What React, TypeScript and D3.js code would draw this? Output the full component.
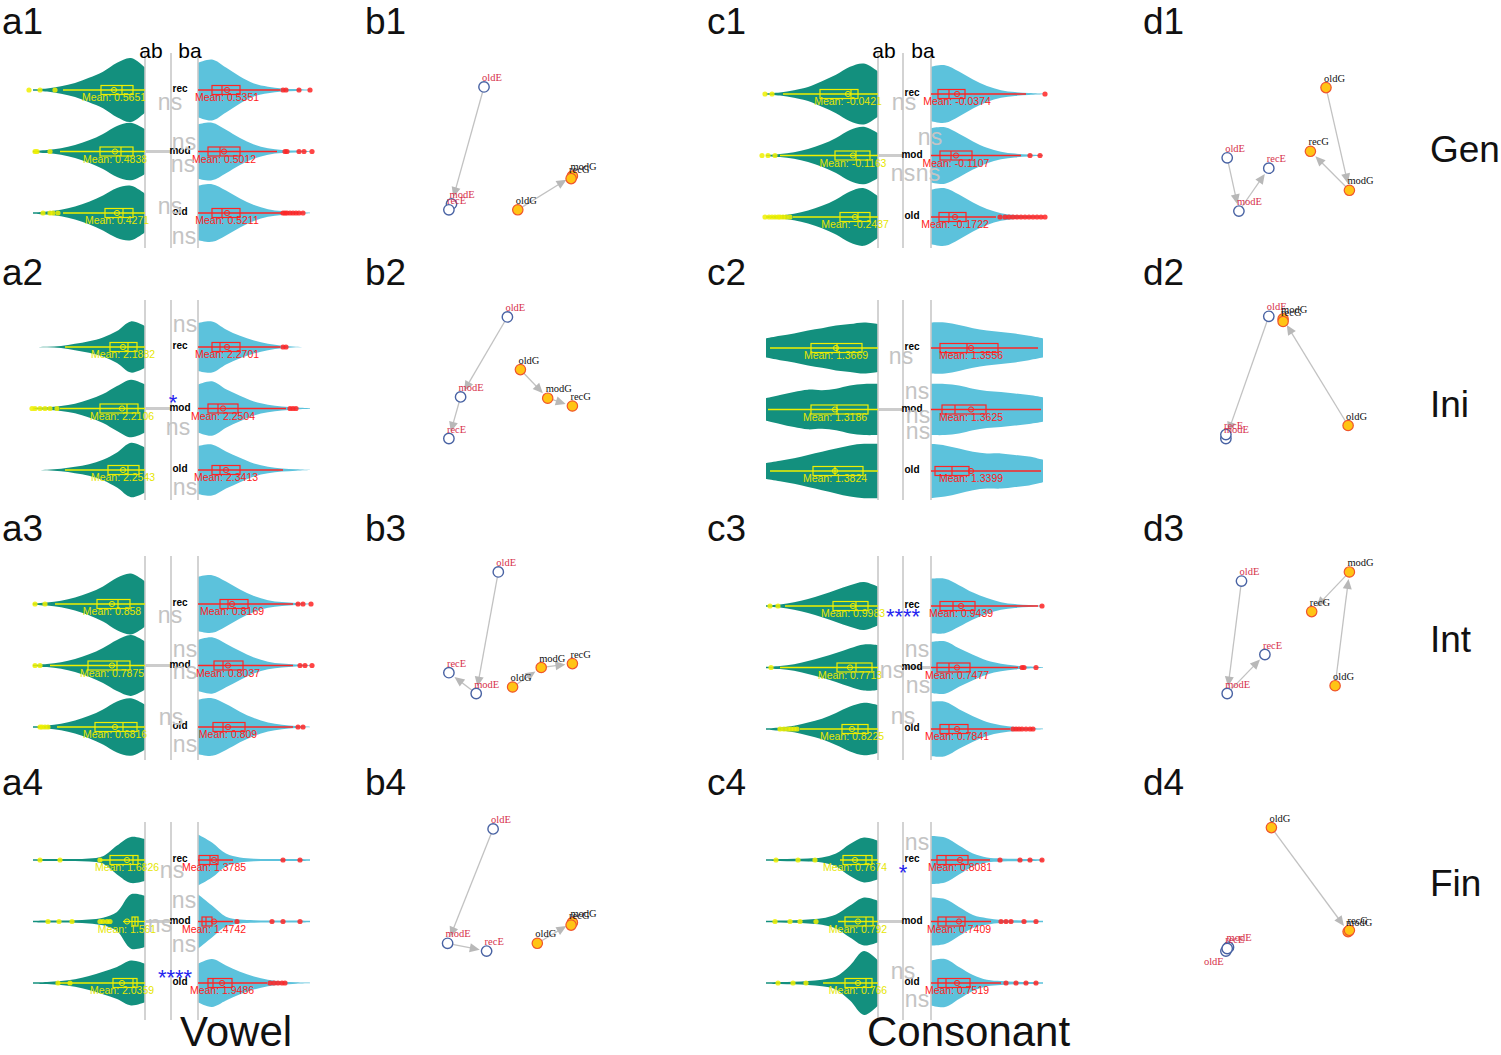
import * as d3 from "d3";
import {useEffect, useRef} from "react";

const W = 1501;
const H = 1055;

const rowNames = ["Gen", "Ini", "Int", "Fin"];
const groups = ["rec", "mod", "old"];
const sideLabels = ["ab", "ba"];
const titles = ["Vowel", "Consonant"];

// violin panels: 0-3 = vowel Gen..Fin (a1-a4), 4-7 = consonant Gen..Fin (c1-c4)
// density profile sampled every 0.14 units away from the centre gap
const profilesAb = [
    [[0.7, 1, 0.85, 0.57, 0.38, 0.22, 0.12, 0.05, 0.02], [0.7, 0.9, 0.8, 0.55, 0.35, 0.2, 0.1, 0.05, 0.02], [0.6, 0.85, 0.78, 0.55, 0.35, 0.2, 0.1, 0.05, 0.02]],
    [[0.65, 0.8, 0.5, 0.3, 0.18, 0.1, 0.03, 0.01, 0], [0.75, 0.9, 0.7, 0.45, 0.28, 0.15, 0.08, 0.04, 0.02], [0.7, 0.85, 0.55, 0.32, 0.18, 0.1, 0.04, 0.01, 0]],
    [[0.7, 0.95, 0.82, 0.55, 0.35, 0.2, 0.1, 0.05, 0.02], [0.75, 0.95, 0.8, 0.55, 0.35, 0.2, 0.1, 0.05, 0.02], [0.7, 0.9, 0.8, 0.55, 0.35, 0.2, 0.1, 0.05, 0.02]],
    [[0.65, 0.72, 0.45, 0.12, 0.05, 0.03, 0.03, 0.03, 0.02], [0.8, 0.85, 0.3, 0.12, 0.06, 0.04, 0.03, 0.03, 0.02], [0.6, 0.7, 0.5, 0.35, 0.22, 0.12, 0.06, 0.03, 0.02]],
    [[0.7, 0.95, 0.85, 0.6, 0.4, 0.22, 0.12, 0.05, 0.02], [0.7, 0.9, 0.8, 0.55, 0.35, 0.2, 0.1, 0.05, 0.02], [0.65, 0.9, 0.8, 0.55, 0.35, 0.2, 0.1, 0.05, 0.02]],
    [[0.75, 0.8, 0.75, 0.7, 0.62, 0.55, 0.45, 0.38, 0.3], [0.8, 0.8, 0.75, 0.65, 0.6, 0.62, 0.55, 0.45, 0.35], [0.85, 0.85, 0.8, 0.7, 0.6, 0.5, 0.4, 0.32, 0.25]],
    [[0.6, 0.75, 0.65, 0.5, 0.35, 0.22, 0.12, 0.05, 0.02], [0.7, 0.72, 0.6, 0.45, 0.32, 0.2, 0.1, 0.05, 0.02], [0.75, 0.82, 0.7, 0.5, 0.32, 0.2, 0.1, 0.05, 0.02]],
    [[0.6, 0.7, 0.5, 0.2, 0.08, 0.05, 0.04, 0.03, 0.02], [0.65, 0.75, 0.5, 0.22, 0.1, 0.06, 0.04, 0.03, 0.02], [0.7, 1.0, 0.55, 0.2, 0.1, 0.06, 0.04, 0.03, 0.02]],
];
const profilesBa = [
    [[0.85, 0.95, 0.7, 0.42, 0.2, 0.1, 0.05, 0.03, 0.01], [0.85, 0.9, 0.68, 0.42, 0.22, 0.1, 0.05, 0.03, 0.01], [0.85, 0.9, 0.7, 0.45, 0.25, 0.12, 0.06, 0.03, 0.01]],
    [[0.75, 0.8, 0.55, 0.35, 0.2, 0.1, 0.04, 0.01, 0], [0.75, 0.85, 0.6, 0.4, 0.22, 0.12, 0.06, 0.03, 0.01], [0.75, 0.8, 0.58, 0.38, 0.2, 0.1, 0.05, 0.02, 0]],
    [[0.85, 0.9, 0.7, 0.45, 0.25, 0.12, 0.06, 0.03, 0.01], [0.8, 0.88, 0.68, 0.45, 0.25, 0.12, 0.06, 0.03, 0.01], [0.85, 0.9, 0.72, 0.48, 0.28, 0.14, 0.07, 0.03, 0.01]],
    [[0.8, 0.55, 0.2, 0.08, 0.04, 0.03, 0.03, 0.03, 0.02], [0.85, 0.5, 0.15, 0.06, 0.04, 0.03, 0.03, 0.03, 0.02], [0.6, 0.75, 0.55, 0.35, 0.2, 0.1, 0.05, 0.02, 0.01]],
    [[0.85, 0.9, 0.7, 0.45, 0.25, 0.12, 0.06, 0.03, 0.01], [0.85, 0.88, 0.68, 0.44, 0.24, 0.12, 0.06, 0.03, 0.01], [0.85, 0.9, 0.7, 0.45, 0.25, 0.12, 0.06, 0.03, 0.01]],
    [[0.8, 0.8, 0.72, 0.62, 0.55, 0.5, 0.45, 0.38, 0.3], [0.8, 0.8, 0.75, 0.65, 0.58, 0.55, 0.5, 0.45, 0.38], [0.85, 0.8, 0.7, 0.6, 0.55, 0.55, 0.5, 0.45, 0.35]],
    [[0.85, 0.85, 0.65, 0.42, 0.25, 0.12, 0.06, 0.03, 0.01], [0.8, 0.82, 0.6, 0.4, 0.22, 0.12, 0.06, 0.03, 0.01], [0.85, 0.85, 0.62, 0.4, 0.22, 0.12, 0.06, 0.03, 0.01]],
    [[0.75, 0.7, 0.45, 0.2, 0.08, 0.05, 0.04, 0.03, 0.02], [0.75, 0.7, 0.45, 0.2, 0.1, 0.05, 0.04, 0.03, 0.02], [0.7, 0.75, 0.5, 0.25, 0.1, 0.06, 0.04, 0.03, 0.02]],
];

// [q1, median, mean, q3, whisker end]
const boxesAb = [
    [[0.12, 0.23, 0.31, 0.44, 0.82], [0.12, 0.24, 0.30, 0.45, 0.85], [0.12, 0.22, 0.28, 0.40, 0.82]],
    [[0.08, 0.17, 0.22, 0.35, 0.80], [0.07, 0.18, 0.23, 0.45, 0.85], [0.06, 0.17, 0.22, 0.37, 0.80]],
    [[0.15, 0.27, 0.33, 0.48, 0.90], [0.15, 0.28, 0.33, 0.57, 0.95], [0.08, 0.22, 0.30, 0.50, 0.88]],
    [[0.07, 0.12, 0.18, 0.35, 0.45], [0.07, 0.10, 0.18, 0.13, 0.22], [0.08, 0.12, 0.23, 0.32, 0.87]],
    [[0.20, 0.27, 0.30, 0.58, 0.95], [0.08, 0.22, 0.25, 0.43, 0.98], [0.08, 0.20, 0.23, 0.38, 0.85]],
    [[0.16, 0.41, 0.42, 0.67, 1.08], [0.10, 0.41, 0.43, 0.67, 1.10], [0.15, 0.43, 0.43, 0.65, 1.08]],
    [[0.10, 0.22, 0.25, 0.45, 0.93], [0.06, 0.22, 0.28, 0.41, 0.98], [0.10, 0.20, 0.26, 0.36, 0.78]],
    [[0.06, 0.12, 0.23, 0.35, 0.38], [0.05, 0.12, 0.20, 0.33, 0.40], [0.06, 0.12, 0.20, 0.33, 0.55]],
];
const boxesBa = [
    [[0.14, 0.24, 0.29, 0.42, 0.82], [0.10, 0.22, 0.26, 0.42, 0.79], [0.14, 0.24, 0.29, 0.42, 0.84]],
    [[0.14, 0.22, 0.29, 0.42, 0.82], [0.10, 0.20, 0.25, 0.40, 0.88], [0.14, 0.22, 0.28, 0.42, 0.85]],
    [[0.22, 0.30, 0.34, 0.50, 0.95], [0.16, 0.25, 0.30, 0.45, 0.95], [0.15, 0.25, 0.30, 0.47, 0.95]],
    [[0.01, 0.12, 0.16, 0.20, 0.35], [0.04, 0.08, 0.16, 0.14, 0.35], [0.10, 0.15, 0.24, 0.34, 0.69]],
    [[0.07, 0.18, 0.26, 0.34, 0.95], [0.09, 0.20, 0.25, 0.41, 0.90], [0.08, 0.18, 0.24, 0.35, 0.65]],
    [[0.09, 0.36, 0.40, 0.67, 1.07], [0.11, 0.24, 0.40, 0.55, 1.10], [0.04, 0.21, 0.40, 0.38, 1.10]],
    [[0.09, 0.22, 0.30, 0.44, 1.07], [0.06, 0.18, 0.26, 0.39, 0.87], [0.09, 0.18, 0.26, 0.37, 0.79]],
    [[0.06, 0.15, 0.29, 0.37, 0.59], [0.07, 0.15, 0.28, 0.34, 0.60], [0.07, 0.15, 0.26, 0.39, 0.70]],
];

const outliersAb = [
    [[0.90, 1.05, 1.16], [0.95, 1.08, 1.10], [0.87, 0.92, 0.95, 1.02]],
    [[], [0.88, 0.95, 1.00, 1.05, 1.10, 1.13], []],
    [[1.00, 1.10], [1.05, 1.10], [0.97, 1.00, 1.03, 1.05]],
    [[0.45, 0.85, 1.05], [0.35, 0.38, 0.42, 0.45, 0.73, 0.86, 0.97], [0.75, 0.87]],
    [[1.06, 1.13], [1.03, 1.10, 1.16], [0.88, 0.92, 0.95, 0.98, 1.00, 1.03, 1.06, 1.09, 1.13]],
    [[], [], []],
    [[1.00, 1.08], [1.07], [0.81, 0.84, 0.87, 0.90, 0.94, 0.98]],
    [[0.63, 0.80, 1.02], [0.62, 0.78, 0.88, 1.03], [0.72, 0.85, 1.00]],
];
const outliersBa = [
    [[0.85, 0.88, 1.01, 1.12], [0.87, 0.89, 1.01, 1.06, 1.14], [0.85, 0.87, 0.89, 0.92, 0.95, 0.98, 1.01, 1.05]],
    [[0.85, 0.88], [0.92, 0.95, 0.98], []],
    [[1.00, 1.05, 1.13], [1.02, 1.07, 1.14], [1.00, 1.05]],
    [[0.85, 1.02], [0.39, 0.74, 0.85, 1.02], [0.72, 0.76, 0.80, 0.84, 0.87]],
    [[1.14], [0.99, 1.09], [0.69, 0.74, 0.78, 0.82, 0.86, 0.90, 0.94, 0.98, 1.02, 1.06, 1.10, 1.14]],
    [[], [], []],
    [[1.11], [0.91, 0.93, 1.05], [0.82, 0.85, 0.88, 0.91, 0.95, 0.99, 1.02]],
    [[0.69, 0.89, 0.99, 1.11], [0.70, 0.75, 0.80, 0.93, 1.05], [0.75, 0.85, 0.95, 1.05]],
];

const meansAb = [
    ["0.5651", "0.4838", "0.4271"], ["2.1882", "2.2106", "2.2543"], ["0.858", "0.7875", "0.6816"], ["1.6826", "1.561", "2.0359"],
    ["-0.0421", "-0.1163", "-0.2437"], ["1.3669", "1.3186", "1.3824"], ["0.9983", "0.7713", "0.8225"], ["0.7674", "0.792", "0.766"],
];
const meansBa = [
    ["0.5351", "0.5012", "0.5211"], ["2.2701", "2.2504", "2.3413"], ["0.8169", "0.8037", "0.809"], ["1.3785", "1.4742", "1.9486"],
    ["-0.0374", "-0.1107", "-0.1722"], ["1.3556", "1.3625", "1.3399"], ["0.9439", "0.7477", "0.7841"], ["0.8081", "0.7409", "0.7519"],
];

// significance labels: [label, offset from middle line, offset from rec row]
const tests: [string, number, number][][] = [
    [["ns", -1, 13], ["ns", 13, 53], ["ns", 12, 75], ["ns", -1, 117], ["ns", 13, 147]],
    [["ns", 14, -22], ["*", 2, 51], ["ns", 7, 81], ["ns", 14, 141]],
    [["ns", -1, 12], ["ns", 14, 46], ["ns", 14, 68], ["ns", 0, 114], ["ns", 14, 141]],
    [["ns", 1, 11], ["ns", 13, 41], ["ns", -11, 65], ["ns", 13, 85], ["****", 4, 113]],
    [["ns", 1, 9], ["ns", 27, 44], ["ns", 0, 80], ["ns", 25, 80]],
    [["ns", -2, 9], ["ns", 14, 44], ["ns", 15, 68], ["ns", 15, 84]],
    [["****", 0, 6], ["ns", 14, 44], ["ns", -11, 65], ["ns", 15, 80], ["ns", 0, 111]],
    [["ns", 14, -17], ["*", 0, 8], ["ns", 0, 112], ["ns", 14, 140]],
];

// network panels: 0-3 = b1-b4, 4-7 = d1-d4 (layout coordinates 0..1)
const nodeNames = ["oldE", "modE", "recE", "oldG", "modG", "recG"];
const nodeX = [
    [0.30, 0.05, 0.03, 0.56, 0.98, 0.97],
    [0.48, 0.12, 0.03, 0.58, 0.79, 0.98],
    [0.41, 0.24, 0.03, 0.52, 0.74, 0.98],
    [0.37, 0.02, 0.32, 0.71, 0.98, 0.97],
    [0.04, 0.13, 0.36, 0.80, 0.98, 0.68],
    [0.36, 0.03, 0.03, 0.97, 0.47, 0.47],
    [0.15, 0.04, 0.33, 0.87, 0.98, 0.69],
    [0.03, 0.05, 0.04, 0.38, 0.97, 0.98],
];
const nodeY = [
    [0.015, 0.915, 0.96, 0.96, 0.70, 0.72],
    [0.015, 0.63, 0.95, 0.42, 0.64, 0.70],
    [0.015, 0.95, 0.79, 0.90, 0.75, 0.72],
    [0.03, 0.91, 0.97, 0.91, 0.75, 0.77],
    [0.56, 0.97, 0.64, 0.02, 0.81, 0.51],
    [0.01, 0.95, 0.92, 0.85, 0.03, 0.05],
    [0.085, 0.95, 0.65, 0.89, 0.015, 0.32],
    [0.97, 0.94, 0.95, 0.02, 0.82, 0.81],
];
const links = [["oldE", "modE"], ["modE", "recE"], ["oldG", "modG"], ["modG", "recG"]];

const SANS = "'Liberation Sans', Arial, sans-serif";
const SERIF = "'Liberation Serif', 'Times New Roman', serif";

function draw(el: SVGSVGElement) {
    const svg = d3.select(el);
    svg.selectAll("*").remove();
    svg.append("rect").attr("width", W).attr("height", H).attr("fill", "#fff");

    const dist = d3.scaleLinear().domain([0, 1.2]).range([0, 120]);
    const half = d3.scaleLinear().domain([0, 1]).range([0, 32]);
    const steps = d3.range(9).map(i => i * 0.14);

    const cols = [{xL: 145, xM: 171, xR: 198}, {xL: 878, xM: 903, xR: 931}];
    const recYs = [[90, 347, 604, 860], [94, 348, 606, 860]];
    const lineTop = [53, 300, 556, 822];
    const lineBot = [248, 500, 760, 1020];

    const sides = [
        {profiles: profilesAb, boxes: boxesAb, outliers: outliersAb, means: meansAb, fill: "#13907e", stroke: "#f0f000", text: "#e6e600"},
        {profiles: profilesBa, boxes: boxesBa, outliers: outliersBa, means: meansBa, fill: "#5cc2dc", stroke: "#ff2424", text: "#ff2020"},
    ];

    d3.range(8).forEach(p => {
        const col = p < 4 ? 0 : 1;
        const r = p % 4;
        const {xL, xM, xR} = cols[col];
        const recY = recYs[col][r];
        const rowY = d3.scaleLinear().domain([0, 2]).range([recY, recY + 123]);
        const g = svg.append("g");
        const px = (side: number, v: number) => side === 0 ? xL - dist(v) : xR + dist(v);

        // violins
        sides.forEach((s, side) => {
            groups.forEach((_, gi) => {
                const cy = rowY(gi);
                const area = d3.area<number>()
                    .x((_, i) => px(side, steps[i]))
                    .y0(v => cy - half(v))
                    .y1(v => cy + half(v))
                    .curve(d3.curveCatmullRom.alpha(0.5));
                g.append("path").attr("d", area(s.profiles[p][gi])).attr("fill", s.fill);
            });
        });

        // guide lines
        [xL, xM, xR].forEach(x => {
            g.append("line").attr("x1", x).attr("x2", x).attr("y1", lineTop[r]).attr("y2", lineBot[r])
                .attr("stroke", "#c8c8c8").attr("stroke-width", 1.6);
        });
        const barFrom = p === 6 ? xM : xL;
        const barTo = p === 6 ? xR : xM;
        g.append("line").attr("x1", barFrom).attr("x2", barTo).attr("y1", rowY(1)).attr("y2", rowY(1))
            .attr("stroke", "#cccccc").attr("stroke-width", 3);

        // boxplots
        sides.forEach((s, side) => {
            groups.forEach((_, gi) => {
                const cy = rowY(gi);
                const [q1, med, mean, q3, wh] = s.boxes[p][gi];
                g.append("line").attr("x1", px(side, 0)).attr("x2", px(side, wh)).attr("y1", cy).attr("y2", cy)
                    .attr("stroke", s.stroke).attr("stroke-width", 1.3);
                const a = px(side, q1), b = px(side, q3);
                g.append("rect").attr("x", Math.min(a, b)).attr("y", cy - 4.5)
                    .attr("width", Math.abs(b - a)).attr("height", 9)
                    .attr("fill", "none").attr("stroke", s.stroke).attr("stroke-width", 1.2);
                g.append("line").attr("x1", px(side, med)).attr("x2", px(side, med)).attr("y1", cy - 4.5).attr("y2", cy + 4.5)
                    .attr("stroke", s.stroke).attr("stroke-width", 1.2);
                g.append("circle").attr("cx", px(side, mean)).attr("cy", cy).attr("r", 2.6)
                    .attr("fill", "none").attr("stroke", s.stroke).attr("stroke-width", 1);
                s.outliers[p][gi].forEach(v => {
                    g.append("circle").attr("cx", px(side, v)).attr("cy", cy).attr("r", 2.6)
                        .attr("fill", s.stroke).attr("fill-opacity", 0.85);
                });
                g.append("text").attr("x", px(side, mean)).attr("y", cy + 11)
                    .attr("text-anchor", "middle").attr("font-family", SANS).attr("font-size", 10.5)
                    .attr("fill", s.text).text(`Mean: ${s.means[p][gi]}`);
            });
        });

        groups.forEach((grp, gi) => {
            g.append("text").attr("x", xM + 9).attr("y", rowY(gi) + 2).attr("text-anchor", "middle")
                .attr("font-family", SANS).attr("font-size", 10).attr("font-weight", "bold").attr("fill", "#000").text(grp);
        });

        tests[p].forEach(([label, dx, dy]) => {
            const isStar = label !== "ns";
            g.append("text").attr("x", xM + dx).attr("y", recY + dy + (isStar ? 12 : 7))
                .attr("text-anchor", "middle").attr("font-family", SANS)
                .attr("font-size", isStar ? 22 : 23)
                .attr("fill", isStar ? "#2424f0" : "#c4c4c4").text(label);
        });

        if (r === 0) {
            g.append("text").attr("x", xL + 6).attr("y", 58).attr("text-anchor", "middle")
                .attr("font-family", SANS).attr("font-size", 21).text(sideLabels[0]);
            g.append("text").attr("x", xR - 8).attr("y", 58).attr("text-anchor", "middle")
                .attr("font-family", SANS).attr("font-size", 21).text(sideLabels[1]);
        }
    });

    // network panels
    const netLeft = [445, 1222];
    const netTop = [85, 315, 570, 825];
    d3.range(8).forEach(p => {
        const x0 = netLeft[p < 4 ? 0 : 1];
        const y0 = netTop[p % 4];
        const sx = d3.scaleLinear().domain([0, 1]).range([x0, x0 + 130]);
        const sy = d3.scaleLinear().domain([0, 1]).range([y0, y0 + 130]);
        const pos = new Map(nodeNames.map((n, i) => [n, [sx(nodeX[p][i]), sy(nodeY[p][i])]]));
        const g = svg.append("g");

        links.forEach(([s, t]) => {
            const [x1, y1] = pos.get(s)!;
            const [x2, y2] = pos.get(t)!;
            const len = Math.hypot(x2 - x1, y2 - y1);
            if (len < 8) return;
            const ux = (x2 - x1) / len, uy = (y2 - y1) / len;
            const tx = x2 - ux * 7, ty = y2 - uy * 7;
            g.append("line").attr("x1", x1 + ux * 5).attr("y1", y1 + uy * 5).attr("x2", tx - ux * 4).attr("y2", ty - uy * 4)
                .attr("stroke", "#c2c2c2").attr("stroke-width", 1.3);
            const bx = tx - ux * 10, by = ty - uy * 10;
            const path = d3.path();
            path.moveTo(tx, ty);
            path.lineTo(bx - uy * 4.5, by + ux * 4.5);
            path.lineTo(bx + uy * 4.5, by - ux * 4.5);
            path.closePath();
            g.append("path").attr("d", path.toString()).attr("fill", "#b8b8b8");
        });

        nodeNames.forEach(n => {
            const [x, y] = pos.get(n)!;
            const isE = n.endsWith("E");
            g.append("circle").attr("cx", x).attr("cy", y).attr("r", 5.2)
                .attr("fill", isE ? "#fff" : "#ffc414")
                .attr("stroke", isE ? "#4862a3" : "#f0542c").attr("stroke-width", isE ? 1.4 : 1.2);
        });
        nodeNames.forEach(n => {
            const [x, y] = pos.get(n)!;
            const isE = n.endsWith("E");
            const below = p === 7 && n === "oldE";
            g.append("text").attr("x", below ? x - 22 : x - 2).attr("y", below ? y + 14 : y - 6)
                .attr("font-family", SERIF).attr("font-size", 10.5)
                .attr("fill", isE ? "#d6304a" : "#111").text(n);
        });
    });

    // panel letters
    const letterX = [2, 365, 707, 1143];
    const letterY = [34, 285, 541, 795];
    ["a", "b", "c", "d"].forEach((l, ci) => {
        letterY.forEach((y, r) => {
            svg.append("text").attr("x", letterX[ci]).attr("y", y).attr("font-family", SANS)
                .attr("font-size", 37).attr("fill", "#111").text(`${l}${r + 1}`);
        });
    });

    const rowBase = [162, 417, 652, 896];
    rowNames.forEach((name, r) => {
        svg.append("text").attr("x", 1430).attr("y", rowBase[r]).attr("font-family", SANS)
            .attr("font-size", 37).attr("fill", "#111").text(name);
    });

    [180, 867].forEach((x, i) => {
        svg.append("text").attr("x", x).attr("y", 1046).attr("font-family", SANS)
            .attr("font-size", 42).attr("fill", "#111").text(titles[i]);
    });
}

export default function App() {
    const ref = useRef<SVGSVGElement>(null);

    useEffect(() => {
        if (ref.current) {
            draw(ref.current);
        }
    }, []);

    return (
        <svg ref={ref} width={W} height={H} style={{position: "absolute", left: 0, top: 0, display: "block"}}/>
    );
}
